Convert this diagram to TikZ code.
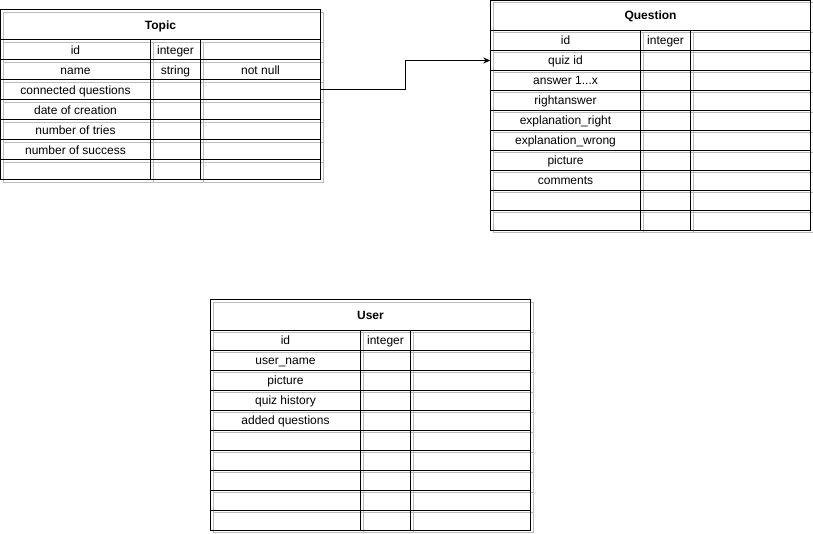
\documentclass[tikz,border=0pt]{standalone}
\usepackage{fontspec}
\setmainfont{Liberation Sans}
\usetikzlibrary{arrows.meta}
\definecolor{shadowgray}{RGB}{188,188,188}
\tikzset{
  gridline/.style={line width=1pt, draw=black},
  shadowline/.style={line width=1pt, draw=shadowgray},
  celltext/.style={font=\fontsize{12}{14}\selectfont, inner sep=0pt, anchor=base},
  titletext/.style={font=\fontsize{12}{14}\selectfont\bfseries, inner sep=0pt, anchor=base},
  rowbox/.style={minimum width=320pt, minimum height=20pt, inner sep=0pt, draw=none},
  tablebox/.style={anchor=north west, inner sep=0pt, draw=none},
  connector/.style={line width=1pt, -{Stealth[length=7pt,width=6pt]}},
}
% #1 name, #2 x, #3 y, #4 number of rows, #5 title
\newcommand{\erdtable}[5]{%
  \pgfmathsetmacro{\tbh}{30+20*#4}%
  \begin{scope}[shift={(#2+2.5,#3+2.5)}]
    \draw[shadowline] (0,0) rectangle (320,\tbh);
    \draw[shadowline] (150,30) -- (150,\tbh) (200,30) -- (200,\tbh);
    \foreach \k in {0,...,#4} { \draw[shadowline] (0,30+20*\k) -- (320,30+20*\k); }
  \end{scope}
  \begin{scope}[shift={(#2,#3)}]
    \node[tablebox, minimum width=320pt, minimum height=\tbh pt] (#1) at (0,0) {};
    \draw[gridline] (0,0) rectangle (320,\tbh);
    \draw[gridline] (150,30) -- (150,\tbh) (200,30) -- (200,\tbh);
    \foreach \k in {0,...,#4} { \draw[gridline] (0,30+20*\k) -- (320,30+20*\k); }
    \node[titletext] (#1-title) at (160,19.5) {#5};
    \foreach \k in {1,...,#4} { \node[rowbox] (#1-r\k) at (160,20+20*\k) {}; }
  \end{scope}
}
% #1 table, #2 row, #3..#5 texts
\newcommand{\erdrow}[5]{%
  \node[celltext] (#1-r#2-a) at ([xshift=-85pt,yshift=-4.5pt]#1-r#2.center) {#3};
  \node[celltext] (#1-r#2-b) at ([xshift=15pt,yshift=-4.5pt]#1-r#2.center) {#4};
  \node[celltext] (#1-r#2-c) at ([xshift=100pt,yshift=-4.5pt]#1-r#2.center) {#5};
}
\begin{document}
\begin{tikzpicture}[x=1pt,y=-1pt]
\useasboundingbox (0,0) rectangle (813,534);

\erdtable{topic}{0.5}{10}{7}{Topic}
\erdrow{topic}{1}{id}{integer}{}
\erdrow{topic}{2}{name}{string}{not null}
\erdrow{topic}{3}{connected questions}{}{}
\erdrow{topic}{4}{date of creation}{}{}
\erdrow{topic}{5}{number of tries}{}{}
\erdrow{topic}{6}{number of success}{}{}

\erdtable{question}{490.5}{0.5}{10}{Question}
\erdrow{question}{1}{id}{integer}{}
\erdrow{question}{2}{quiz id}{}{}
\erdrow{question}{3}{answer 1...x}{}{}
\erdrow{question}{4}{rightanswer}{}{}
\erdrow{question}{5}{explanation\_right}{}{}
\erdrow{question}{6}{explanation\_wrong}{}{}
\erdrow{question}{7}{picture}{}{}
\erdrow{question}{8}{comments}{}{}

\erdtable{user}{210.5}{300}{10}{User}
\erdrow{user}{1}{id}{integer}{}
\erdrow{user}{2}{user\_name}{}{}
\erdrow{user}{3}{picture}{}{}
\erdrow{user}{4}{quiz history}{}{}
\erdrow{user}{5}{added questions}{}{}

\draw[connector] (topic-r3.east) -- ++(85,0) |- (question-r2.west);
\end{tikzpicture}
\end{document}
